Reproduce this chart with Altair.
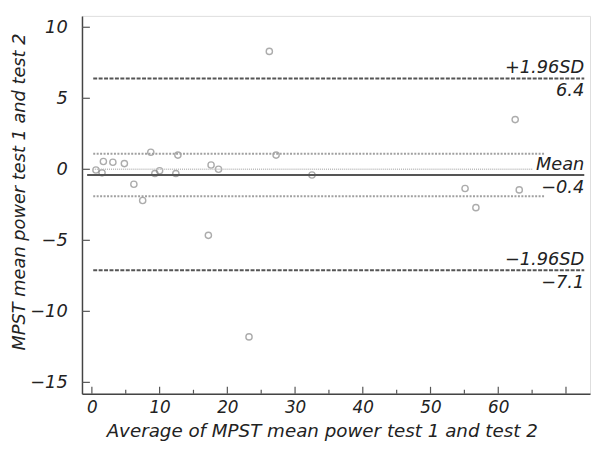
import altair as alt
import pandas as pd

# Scatter data (Bland-Altman)
avg_x = [0.6, 1.5, 1.7, 3.1, 4.8, 6.2, 7.5, 8.7, 9.3, 10.0, 12.4, 12.7, 17.2,
         17.6, 18.7, 23.2, 26.2, 27.2, 32.5, 55.1, 56.7, 62.5, 63.1]
diff_y = [-0.05, -0.25, 0.55, 0.5, 0.4, -1.05, -2.2, 1.2, -0.3, -0.1, -0.3, 1.0, -4.65,
          0.3, 0.0, -11.8, 8.3, 1.0, -0.4, -1.35, -2.7, 3.5, -1.45]

# Reference lines
mean_val = -0.4
upper_loa = 6.4
lower_loa = -7.1
ci_lines = [1.1, -1.9]
zero_line = [0.0]
line_start = 0.2
line_end = 72.7
ci_end = 66.8
zero_end = 65.1

label_top = ["+1.96SD", "Mean", "\u22121.96SD"]
label_bottom = ["6.4", "\u22120.4", "\u22127.1"]
label_y = [upper_loa, mean_val, lower_loa]

y_ticks = [10, 5, 0, -5, -10, -15]
x_ticks_major = [0, 10, 20, 30, 40, 50, 60, 70]
x_ticks_minor = [5, 15, 25, 35, 45, 55, 65]
x_labels = [0, 10, 20, 30, 40, 50, 60]

FONT = "DejaVu Sans"
FS = 18
W, H = 515, 383

xs = alt.Scale(domain=[-1.46, 73.55], nice=False, zero=False)
ys = alt.Scale(domain=[-15.8, 10.8], nice=False, zero=False)

pts = pd.DataFrame({"x": avg_x, "y": diff_y})
loa = pd.DataFrame({"y": [upper_loa, lower_loa], "x0": line_start, "x1": line_end})
meandf = pd.DataFrame({"y": [mean_val], "x0": line_start - 0.9, "x1": line_end})
cidf = pd.DataFrame({"y": ci_lines, "x0": line_start, "x1": ci_end})
zdf = pd.DataFrame({"y": zero_line, "x0": line_start, "x1": zero_end})
labs = pd.DataFrame({"y": label_y, "top": label_top, "bot": label_bottom, "x": line_end})
ytk = pd.DataFrame({"y": y_ticks})
xtk_major = pd.DataFrame({"x": x_ticks_major})
xtk_minor = pd.DataFrame({"x": x_ticks_minor})

xaxis = alt.Axis(values=x_labels, ticks=False, grid=False, domain=True,
                 domainColor="#444", domainWidth=1.5,
                 labelFont=FONT, labelFontStyle="italic", labelFontSize=17,
                 labelColor="#222", labelPadding=6,
                 title="Average of MPST mean power test 1 and test 2",
                 titleFont=FONT, titleFontStyle="italic", titleFontSize=18.5,
                 titleFontWeight="normal", titleColor="#222",
                 titleX=243, titleY=43, titleBaseline="alphabetic")
yaxis = alt.Axis(values=y_ticks, ticks=False, grid=False, domain=True,
                 domainColor="#444", domainWidth=1.5,
                 labelFont=FONT, labelFontStyle="italic", labelFontSize=FS,
                 labelColor="#222", labelPadding=15,
                 labelExpr="replace(datum.label, '-', '\u2212')",
                 title="MPST mean power test 1 and test 2",
                 titleFont=FONT, titleFontStyle="italic", titleFontSize=FS,
                 titleFontWeight="normal", titleColor="#222",
                 titleX=-54, titleY=178)

base_x = alt.X("x:Q", scale=xs, axis=xaxis)
base_y = alt.Y("y:Q", scale=ys, axis=yaxis)

points = alt.Chart(pts).mark_point(shape="circle", filled=False, size=40,
                                   stroke="#8a8a8a", strokeWidth=1.4).encode(
    x=base_x, y=base_y)

zero_l = alt.Chart(zdf).mark_rule(color="#bbb", strokeWidth=1.5, strokeDash=[1, 1]).encode(
    x=alt.X("x0:Q", scale=xs), x2="x1:Q", y=alt.Y("y:Q", scale=ys))
ci_l = alt.Chart(cidf).mark_rule(color="#a0a0a0", strokeWidth=2, strokeDash=[2, 1.5]).encode(
    x=alt.X("x0:Q", scale=xs), x2="x1:Q", y=alt.Y("y:Q", scale=ys))
loa_l = alt.Chart(loa).mark_rule(color="#555", strokeWidth=2, strokeDash=[4, 1.5]).encode(
    x=alt.X("x0:Q", scale=xs), x2="x1:Q", y=alt.Y("y:Q", scale=ys))
mean_l = alt.Chart(meandf).mark_rule(color="#555", strokeWidth=2).encode(
    x=alt.X("x0:Q", scale=xs), x2="x1:Q", y=alt.Y("y:Q", scale=ys))

txt_top = alt.Chart(labs).mark_text(align="right", baseline="bottom", dy=-1,
                                    font=FONT, fontStyle="italic", fontSize=FS,
                                    color="#222").encode(
    x=alt.X("x:Q", scale=xs), y=alt.Y("y:Q", scale=ys), text="top:N")
txt_bot = alt.Chart(labs).mark_text(align="right", baseline="top", dy=4,
                                    font=FONT, fontStyle="italic", fontSize=FS,
                                    color="#222").encode(
    x=alt.X("x:Q", scale=xs), y=alt.Y("y:Q", scale=ys), text="bot:N")

ytick_m = alt.Chart(ytk).mark_rule(color="#555", strokeWidth=1.2).encode(
    y=alt.Y("y:Q", scale=ys), x=alt.value(0), x2=alt.value(8))
xtick_M = alt.Chart(xtk_major).mark_rule(color="#555", strokeWidth=1.2).encode(
    x=alt.X("x:Q", scale=xs), y=alt.value(H), y2=alt.value(H - 7))
xtick_m = alt.Chart(xtk_minor).mark_rule(color="#555", strokeWidth=1.2).encode(
    x=alt.X("x:Q", scale=xs), y=alt.value(H), y2=alt.value(H - 4))

chart = alt.layer(points, zero_l, ci_l, loa_l, mean_l, txt_top, txt_bot,
                  ytick_m, xtick_M, xtick_m).properties(
    width=W, height=H,
    autosize=alt.AutoSizeParams(type="none"),
    padding={"left": 75, "top": 5, "right": 2, "bottom": 51},
).configure_view(stroke="#444", strokeWidth=1.5).configure(background="white")

chart.save("out.html", embed_options={"renderer": "svg", "actions": False})
